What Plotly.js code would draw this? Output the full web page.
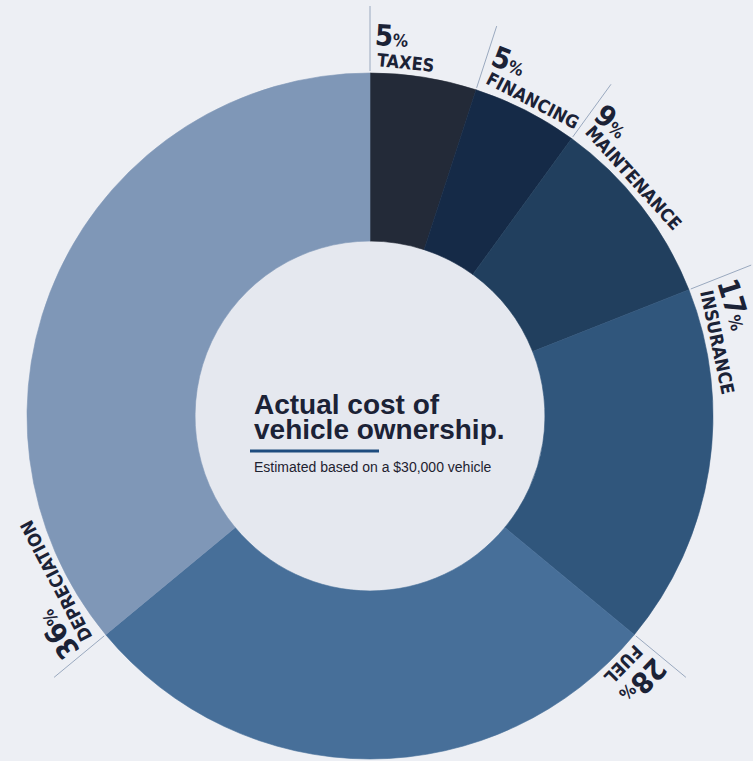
<!DOCTYPE html>
<html><head><meta charset="utf-8">
<script src="https://cdn.plot.ly/plotly-3.0.1.min.js"></script>
<style>html,body{margin:0;padding:0;background:#edeff4;}#chart{width:753px;height:761px;}</style>
</head><body><div id="chart"></div>
<script>
// ---- data ----
const categories = ['TAXES', 'FINANCING', 'MAINTENANCE', 'INSURANCE', 'FUEL', 'DEPRECIATION'];
const percents = [5, 5, 9, 17, 28, 36];
const sliceColors = ['#232a38', '#152a47', '#213f5e', '#30567c', '#476f99', '#7f97b7'];
const titleLines = ['Actual cost of', 'vehicle ownership.'];
const subtitle = 'Estimated based on a $30,000 vehicle';

// ---- layout geometry ----
const W = 753, H = 761;
const M = {l: 27, r: 40, t: 73, b: 2, pad: 0};
const pw = W - M.l - M.r, ph = H - M.t - M.b;
const R = Math.min(pw, ph) / 2;
const cx = M.l + pw / 2, cy = M.t + ph / 2;
const holeFrac = 0.51;
const toPaper = (x, y) => ({x: (x - M.l) / pw, y: 1 - (y - M.t) / ph});
const polar = (r, deg) => { const a = deg * Math.PI / 180; return [cx + r * Math.sin(a), cy - r * Math.cos(a)]; };
const norm = a => { a = ((a % 360) + 360) % 360; return a > 180 ? a - 360 : a; };

const labelFam = 'DejaVu Sans Condensed, DejaVu Sans, sans-serif';
const nameSize = 18, digSize = 29, pctSize = 17;
const ink = '#1b2236';
const cv = document.createElement('canvas').getContext('2d');
function measure(txt, size) { cv.font = 'bold ' + size + 'px "DejaVu Sans Condensed", "DejaVu Sans", sans-serif'; return cv.measureText(txt).width; }

const annotations = [];
const shapes = [];
let cum = 0;
const total = percents.reduce((a, b) => a + b, 0);
const rName = R + 12, rPct = R + 38, padName = 7, padPct = 5;
categories.forEach((cat, i) => {
  const start = cum / total * 360;
  cum += percents[i];
  // separator line
  const p0 = toPaper(...polar(R + 2, start)), p1 = toPaper(...polar(R + 67, start));
  shapes.push({type: 'line', xref: 'paper', yref: 'paper', x0: p0.x, y0: p0.y, x1: p1.x, y1: p1.y,
    line: {color: '#9aa9bf', width: 1}});
  // name label
  const wN = measure(cat, nameSize);
  const aN = start + (padName + wN / 2) / rName * 180 / Math.PI;
  const pN = toPaper(...polar(rName, aN));
  annotations.push({xref: 'paper', yref: 'paper', x: pN.x, y: pN.y, xanchor: 'center', yanchor: 'middle',
    showarrow: false, text: cat, textangle: norm(aN), borderpad: 0,
    font: {family: labelFam, size: nameSize, color: ink, weight: 'bold'}});
  // percent label
  const num = String(percents[i]);
  const wP = measure(num, digSize) + measure('%', pctSize);
  const aP = start + (padPct + wP / 2) / rPct * 180 / Math.PI;
  const pP = toPaper(...polar(rPct, aP));
  annotations.push({xref: 'paper', yref: 'paper', x: pP.x, y: pP.y, xanchor: 'center', yanchor: 'middle',
    showarrow: false, text: num + '<span style="font-size:' + pctSize + 'px">%</span>', textangle: norm(aP), borderpad: 0,
    font: {family: labelFam, size: digSize, color: ink, weight: 'bold'}});
});

// hole background
const hr = R * holeFrac;
const h0 = toPaper(cx - hr, cy - hr), h1 = toPaper(cx + hr, cy + hr);
shapes.unshift({type: 'circle', xref: 'paper', yref: 'paper', layer: 'below', x0: h0.x, y0: h1.y, x1: h1.x, y1: h0.y,
  fillcolor: '#e5e8ef', line: {width: 0}});

// center text
const tx = 253;
const t1 = toPaper(tx, 404), t2 = toPaper(tx, 429), t3 = toPaper(tx, 467);
annotations.push({xref: 'paper', yref: 'paper', x: t1.x, y: t1.y, xanchor: 'left', yanchor: 'middle', showarrow: false, borderpad: 0,
  text: titleLines[0], font: {family: 'Liberation Sans, Arial, sans-serif', size: 28, color: ink, weight: 'bold'}});
annotations.push({xref: 'paper', yref: 'paper', x: t2.x, y: t2.y, xanchor: 'left', yanchor: 'middle', showarrow: false, borderpad: 0,
  text: titleLines[1], font: {family: 'Liberation Sans, Arial, sans-serif', size: 28, color: ink, weight: 'bold'}});
annotations.push({xref: 'paper', yref: 'paper', x: t3.x, y: t3.y, xanchor: 'left', yanchor: 'middle', showarrow: false, borderpad: 0,
  text: subtitle, font: {family: 'Liberation Sans, Arial, sans-serif', size: 14, color: '#1e2230'}});
const u0 = toPaper(250, 451), u1 = toPaper(379, 451);
shapes.push({type: 'line', xref: 'paper', yref: 'paper', x0: u0.x, y0: u0.y, x1: u1.x, y1: u1.y, line: {color: '#1e4c7e', width: 3}});

const trace = {
  type: 'pie', values: percents, labels: categories, sort: false, direction: 'clockwise', rotation: 0,
  hole: holeFrac, textinfo: 'none', hoverinfo: 'skip', showlegend: false,
  marker: {colors: sliceColors, line: {width: 0.6, color: sliceColors}}
};
Plotly.newPlot('chart', [trace], {
  width: W, height: H, margin: M, paper_bgcolor: '#edeff4', plot_bgcolor: '#edeff4',
  showlegend: false, annotations: annotations, shapes: shapes
}, {displayModeBar: false, staticPlot: true});
</script></body></html>
